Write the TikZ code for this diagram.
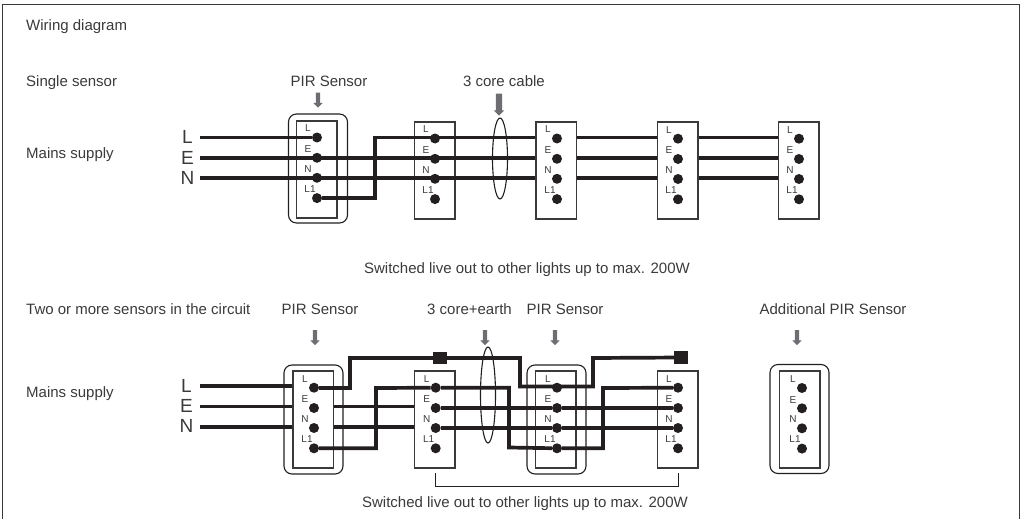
\documentclass[tikz,border=0pt]{standalone}
\usepackage{fontspec}
\setmainfont{Liberation Sans}
\usepackage{tikz}
\usetikzlibrary{calc,shapes.geometric,shapes.arrows}
\definecolor{ink}{HTML}{231F20}
\definecolor{txt}{HTML}{3A3A3C}
\definecolor{pilgrey}{HTML}{6D6E71}
\tikzset{
    pol/.style={
           circle,
           fill=ink,
           minimum size=10pt,
           inner sep=0pt},
    polname/.style={
           text=txt,
           inner sep=0pt,
           font=\fontsize{10pt}{11pt}\selectfont},
    block/.style={
           draw=txt,
           line width=1.5pt,
           minimum width=40.5pt,
           minimum height=97pt,
           inner sep=0pt},
    ring/.style={
           draw=ink,
           line width=1.1pt,
           rounded corners=8pt,
           minimum width=59pt,
           minimum height=109pt,
           inner sep=0pt},
    wire/.style={
           draw=ink,
           line width=3.7pt},
    caption/.style={
           text=txt,
           inner sep=0pt,
           font=\fontsize{15pt}{17pt}\selectfont},
    phase/.style={
           text=txt,
           inner sep=0pt,
           font=\fontsize{19pt}{20pt}\selectfont},
    cable/.style={
           draw,
           ellipse,
           draw=ink,
           line width=1.1pt,
           inner sep=0pt,
           minimum width=15pt},
    pointer/.style={
           single arrow,
           shape border rotate=270,
           fill=pilgrey,
           inner sep=2pt,
           minimum width=9pt,
           minimum height=15pt,
           single arrow head extend=2.5pt},
    joint/.style={
           fill=ink,
           inner sep=0pt,
           minimum width=14pt,
           minimum height=12.5pt}
}
\begin{document}
\begin{tikzpicture}[x=1pt,y=-1pt]
          \def \terminals #1#2#3{
            \node[pol](#1L) at (#2,#3) {};
            \node[pol](#1E) at (#2,#3+20.3) {};
            \node[pol](#1N) at (#2,#3+40.3) {};
            \node[pol](#1Q) at (#2,#3+60.6) {};
            \node[polname](#1Ltext) at (#2-9,#3-9) {L};
            \node[polname](#1Etext) at (#2-9,#3+11.7) {E};
            \node[polname](#1Ntext) at (#2-9,#3+31.3) {N};
            \node[polname](#1Qtext) at (#2-7,#3+51.3) {L1};
          }
          \useasboundingbox (0,0) rectangle (1022,519);
          \draw[txt, line width=1.6pt] (2.5,519) -- (2.5,4.5) -- (1019.5,4.5) -- (1019.5,519);
          % texts
          \node[caption, anchor=base west](title) at (26,31) {Wiring diagram};
          \node[caption, anchor=base west](single) at (26,86) {Single sensor};
          \node[caption, anchor=base west](mainsa) at (26,158) {Mains supply};
          \node[caption, anchor=base west](two) at (26,314) {Two or more sensors in the circuit};
          \node[caption, anchor=base west](mainsb) at (26,397) {Mains supply};
          \node[caption, anchor=base](pira) at (329,86) {PIR Sensor};
          \node[caption, anchor=base](corea) at (504,86) {3 core cable};
          \node[caption, anchor=base](liveda) at (527,273) {Switched live out to other lights up to max. 200W};
          \node[caption, anchor=base](pirb) at (320,314) {PIR Sensor};
          \node[caption, anchor=base](coreb) at (469.5,314) {3 core+earth};
          \node[caption, anchor=base](pirc) at (565,314) {PIR Sensor};
          \node[caption, anchor=base](pird) at (833,314) {Additional PIR Sensor};
          \node[caption, anchor=base](livedb) at (525,507) {Switched live out to other lights up to max. 200W};
          \node[phase](La) at (187.5,137) {L};
          \node[phase](Ea) at (187.5,158) {E};
          \node[phase](Na) at (187.5,178) {N};
          \node[phase](Lb) at (186.5,386) {L};
          \node[phase](Eb) at (186.5,406) {E};
          \node[phase](Nb) at (186.5,426) {N};
          % single sensor
          \coordinate (inaL) at (200,137.5);
          \coordinate (inaE) at (200,157.7);
          \coordinate (inaN) at (200,177.7);
          \node[ring](ringa) at (318,168.5) {};
          \node[block](ba) at (316.5,169.5) {};
          \node[block](bb) at (434.75,170.5) {};
          \node[block](bc) at (556,170.5) {};
          \node[block](bd) at (677.5,170.5) {};
          \node[block](be) at (798.5,170.5) {};
          \terminals{a}{317}{137.5}
          \terminals{b}{435}{138.5}
          \terminals{c}{557}{138.5}
          \terminals{d}{678}{138.7}
          \terminals{e}{799}{138.7}
          \draw[wire] (inaL) -- (aL);
          \draw[wire] (inaE) -- (inaE -| bc.west);
          \draw[wire] (inaN) -- (inaN -| bc.west);
          \draw[wire] (aQ) -| (375,137.5) -- (inaL -| bc.west);
          \draw[wire] (bc.east |- inaL) -- (bd.west |- inaL);
          \draw[wire] (bc.east |- inaE) -- (bd.west |- inaE);
          \draw[wire] (bc.east |- inaN) -- (bd.west |- inaN);
          \draw[wire] (bd.east |- inaL) -- (be.west |- inaL);
          \draw[wire] (bd.east |- inaE) -- (be.west |- inaE);
          \draw[wire] (bd.east |- inaN) -- (be.west |- inaN);
          \node[cable, minimum height=81pt](ela) at (500,158.5) {};
          \node[pointer](pa) at (318,99) {};
          \node[pointer, inner sep=3pt, minimum width=10pt, minimum height=22pt, single arrow head extend=2pt](pb) at (499,103) {};
          % two or more sensors
          \coordinate (inbL) at (200,386.3);
          \coordinate (inbE) at (200,406.5);
          \coordinate (inbN) at (200,426.7);
          \node[ring](ringf) at (313.5,419.5) {};
          \node[block](bf) at (313,419.5) {};
          \node[block](bg) at (434.75,419.5) {};
          \node[ring](ringh) at (556.5,419.5) {};
          \node[block](bh) at (555.75,419.5) {};
          \node[block](bi) at (677.5,419.5) {};
          \node[ring](ringj) at (799.5,419) {};
          \node[block](bj) at (799.5,419.5) {};
          \terminals{f}{314}{387.7}
          \terminals{g}{435.7}{387.7}
          \terminals{h}{557}{387.7}
          \terminals{i}{678}{387.7}
          \terminals{j}{802}{388}
          \node[joint](jointa) at (440,358) {};
          \node[joint](jointb) at (681,357.5) {};
          \draw[wire] (inbL) -- (inbL -| bf.west);
          \draw[wire] (inbE) -- (inbE -| bf.west);
          \draw[wire] (inbN) -- (inbN -| bf.west);
          \draw[wire] (bf.east |- inbE) -- (bg.west |- inbE);
          \draw[wire] (bf.east |- inbN) -- (bg.west |- inbN);
          \draw[wire] (fL) -| (350,358) -- (jointa);
          \draw[wire] (jointa) -- (520,358) -- (520,386.5) -- (593,386.5) -- (593,358) -- (jointb);
          \draw[wire] (fQ) -| (376,388) -- (gL);
          \draw[wire] (gL) -| (509,447.5) -- (hQ);
          \draw[wire] (hQ) -| (603,388) -- (iL);
          \draw[wire] (gE) -- (hE);
          \draw[wire] (hE) -- (iE);
          \draw[wire] (gN) -- (hN);
          \draw[wire] (hN) -- (iN);
          \node[cable, minimum height=96pt](elb) at (488,395) {};
          \node[pointer](pc) at (315,336.5) {};
          \node[pointer](pd) at (485,336.5) {};
          \node[pointer](pe) at (555,336.5) {};
          \node[pointer](pf) at (797,336.5) {};
          \draw[ink, line width=0.8pt] (gQ.south |- 0,473) -- (gQ.south |- 0,486) -- (iQ.south |- 0,486) -- (iQ.south |- 0,473);
\end{tikzpicture}
\end{document}
